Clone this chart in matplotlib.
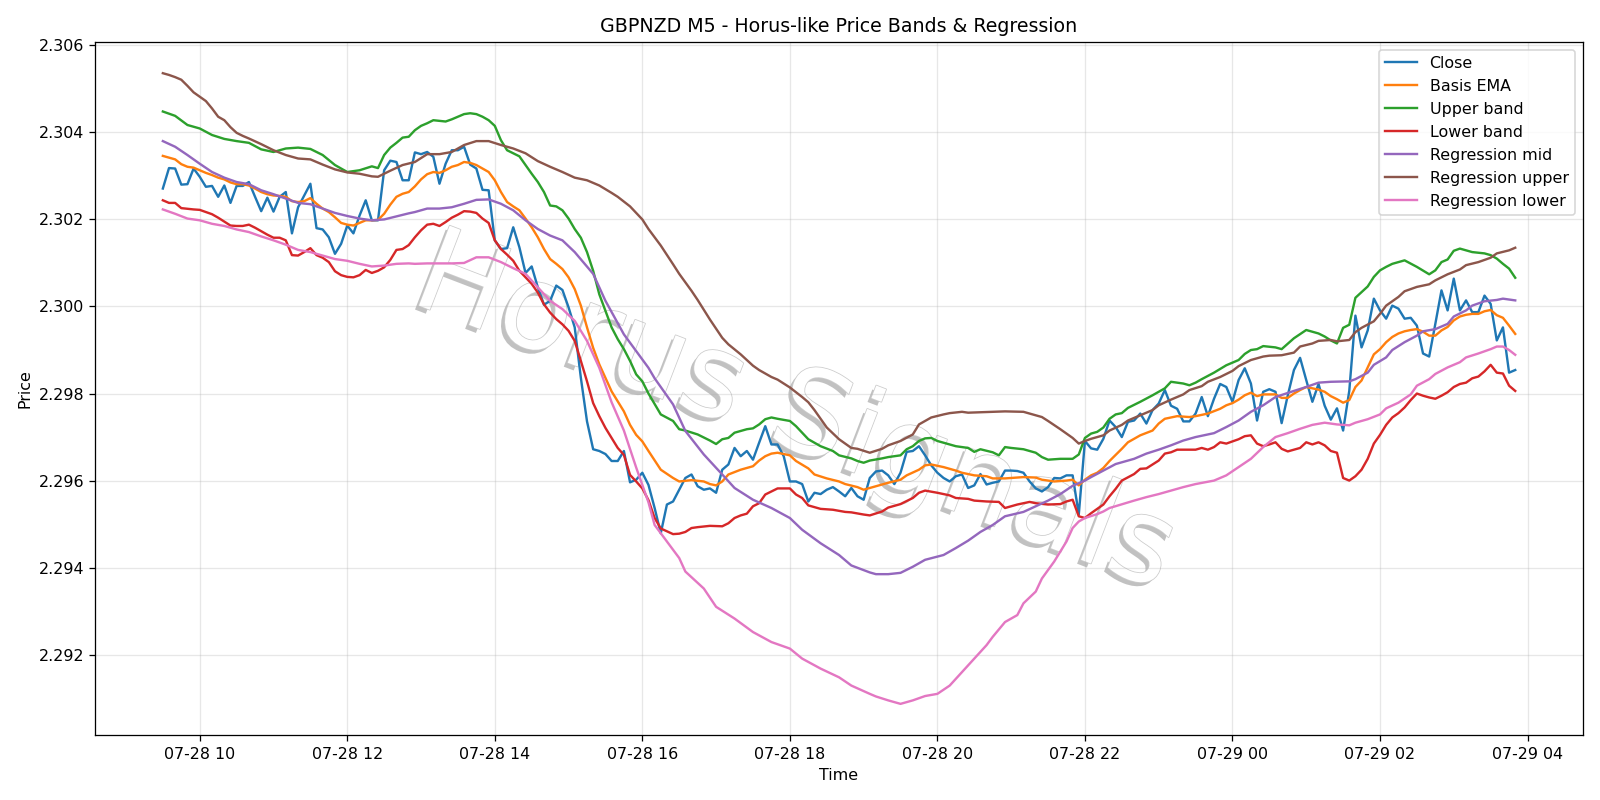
import matplotlib
matplotlib.use("Agg")
import matplotlib.pyplot as plt
import matplotlib.dates as mdates
import matplotlib.patheffects as pe
import pandas as pd
import numpy as np

start_time = "2024-07-28 09:30"
step_minutes = 5

close = [
    2.30271, 2.30318, 2.30317, 2.30280, 2.30281, 2.30317, 2.30298, 2.30275, 2.30277, 2.30252,
    2.30278, 2.30238, 2.30277, 2.30277, 2.30286, 2.30252, 2.30219, 2.30250, 2.30218, 2.30252,
    2.30263, 2.30168, 2.30228, 2.30255, 2.30282, 2.30180, 2.30177, 2.30159, 2.30121, 2.30144,
    2.30186, 2.30168, 2.30209, 2.30244, 2.30198, 2.30198, 2.30313, 2.30335, 2.30332, 2.30290,
    2.30290, 2.30354, 2.30350, 2.30355, 2.30344, 2.30282, 2.30328, 2.30359, 2.30359, 2.30367,
    2.30326, 2.30317, 2.30268, 2.30267, 2.30152, 2.30132, 2.30134, 2.30182, 2.30136, 2.30077,
    2.30092, 2.30044, 2.30004, 2.30013, 2.30048, 2.30038, 2.29998, 2.29952, 2.29836, 2.29736,
    2.29672, 2.29668, 2.29661, 2.29645, 2.29645, 2.29668, 2.29596, 2.29602, 2.29618, 2.29590,
    2.29537, 2.29479, 2.29545, 2.29552, 2.29579, 2.29606, 2.29614, 2.29587, 2.29579, 2.29582,
    2.29572, 2.29625, 2.29637, 2.29675, 2.29656, 2.29668, 2.29648, 2.29687, 2.29725, 2.29683,
    2.29683, 2.29656, 2.29598, 2.29598, 2.29592, 2.29552, 2.29572, 2.29569, 2.29579, 2.29585,
    2.29575, 2.29564, 2.29583, 2.29564, 2.29556, 2.29606, 2.29621, 2.29623, 2.29612, 2.29592,
    2.29618, 2.29666, 2.29668, 2.29679, 2.29658, 2.29635, 2.29618, 2.29606, 2.29598, 2.29610,
    2.29614, 2.29583, 2.29589, 2.29615, 2.29591, 2.29595, 2.29598, 2.29623, 2.29623, 2.29622,
    2.29618, 2.29598, 2.29582, 2.29575, 2.29585, 2.29606, 2.29605, 2.29612, 2.29612, 2.29522,
    2.29691, 2.29674, 2.29671, 2.29696, 2.29738, 2.29723, 2.29700, 2.29735, 2.29738, 2.29754,
    2.29731, 2.29762, 2.29777, 2.29808, 2.29772, 2.29765, 2.29736, 2.29736, 2.29754, 2.29792,
    2.29748, 2.29788, 2.29822, 2.29815, 2.29781, 2.29831, 2.29858, 2.29823, 2.29738, 2.29804,
    2.29810, 2.29804, 2.29732, 2.29796, 2.29854, 2.29882, 2.29831, 2.29781, 2.29822, 2.29772,
    2.29740, 2.29766, 2.29715, 2.29806, 2.29979, 2.29906, 2.29945, 2.30018, 2.29991, 2.29972,
    2.30002, 2.29995, 2.29972, 2.29974, 2.29956, 2.29892, 2.29885, 2.29960, 2.30037, 2.29991,
    2.30064, 2.29991, 2.30014, 2.29987, 2.29987, 2.30025, 2.30006, 2.29922, 2.29952, 2.29848,
    2.29854,
]

basis_idx = [0, 1, 2, 3, 4, 5, 6, 7, 8, 9, 10, 11, 12, 13, 14, 15, 16, 17, 18, 19, 20, 21, 22, 23, 24, 25,
             26, 27, 28, 29, 30, 31, 32, 33, 34, 35, 36, 37, 38, 39, 40, 41, 42, 43, 44, 45, 46, 47, 48,
             49, 50, 51, 52, 53, 54, 55, 56, 57, 58, 59, 60, 61, 62, 63, 64, 65, 66, 67, 68, 69, 70, 71,
             72, 73, 74, 75, 76, 77, 78, 79, 81, 83, 84, 86, 88, 89, 90, 91, 92, 94, 96, 97, 98, 99, 100,
             102, 103, 105, 106, 108, 110, 111, 113, 114, 116, 118, 120, 121, 123, 124, 125, 127, 129,
             130, 132, 134, 135, 137, 138, 140, 142, 143, 145, 147, 148, 149, 150, 151, 152, 153, 154,
             156, 157, 159, 161, 162, 163, 165, 167, 168, 170, 172, 173, 174, 175, 176, 177, 178, 179,
             180, 181, 182, 183, 184, 185, 186, 188, 189, 190, 191, 192, 193, 194, 195, 196, 197, 198,
             199, 200, 201, 202, 203, 204, 205, 206, 207, 208, 209, 210, 211, 212, 213, 214, 215, 216,
             217, 218, 219, 220]
basis_val = [2.30346, 2.30342, 2.30338, 2.30327, 2.30321, 2.30319, 2.30313, 2.30307, 2.30302, 2.30296,
             2.30292, 2.30285, 2.30281, 2.30281, 2.30278, 2.30271, 2.30263, 2.30258, 2.30255, 2.30254,
             2.30252, 2.30242, 2.30240, 2.30242, 2.30249, 2.30236, 2.30225, 2.30217, 2.30205, 2.30192,
             2.30188, 2.30186, 2.30192, 2.30198, 2.30198, 2.30199, 2.30213, 2.30234, 2.30252, 2.30259,
             2.30263, 2.30276, 2.30292, 2.30304, 2.30309, 2.30307, 2.30313, 2.30321, 2.30325, 2.30332,
             2.30330, 2.30325, 2.30317, 2.30309, 2.30290, 2.30263, 2.30240, 2.30230, 2.30221, 2.30202,
             2.30182, 2.30159, 2.30132, 2.30109, 2.30098, 2.30086, 2.30067, 2.30040, 2.30002, 2.29952,
             2.29905, 2.29867, 2.29836, 2.29805, 2.29782, 2.29759, 2.29728, 2.29705, 2.29690, 2.29668,
             2.29625, 2.29606, 2.29598, 2.29601, 2.29598, 2.29592, 2.29589, 2.29598, 2.29614, 2.29625,
             2.29633, 2.29646, 2.29656, 2.29662, 2.29664, 2.29658, 2.29645, 2.29628, 2.29614, 2.29605,
             2.29598, 2.29592, 2.29585, 2.29579, 2.29587, 2.29595, 2.29602, 2.29612, 2.29625, 2.29635,
             2.29637, 2.29631, 2.29623, 2.29618, 2.29612, 2.29610, 2.29605, 2.29605, 2.29606, 2.29608,
             2.29607, 2.29602, 2.29598, 2.29600, 2.29602, 2.29589, 2.29602, 2.29612, 2.29618, 2.29629,
             2.29645, 2.29673, 2.29688, 2.29704, 2.29715, 2.29731, 2.29742, 2.29748, 2.29746, 2.29748,
             2.29754, 2.29765, 2.29773, 2.29778, 2.29786, 2.29796, 2.29802, 2.29794, 2.29798, 2.29798,
             2.29798, 2.29790, 2.29790, 2.29800, 2.29808, 2.29815, 2.29809, 2.29804, 2.29794, 2.29787,
             2.29779, 2.29785, 2.29815, 2.29830, 2.29860, 2.29890, 2.29902, 2.29918, 2.29930, 2.29938,
             2.29943, 2.29946, 2.29948, 2.29942, 2.29933, 2.29933, 2.29945, 2.29953, 2.29968, 2.29977,
             2.29981, 2.29983, 2.29983, 2.29989, 2.29992, 2.29980, 2.29974, 2.29956, 2.29937]

upper_idx = [0, 2, 4, 6, 8, 10, 12, 14, 16, 18, 20, 22, 24, 26, 28, 30, 32, 34, 35, 36, 37, 38, 39, 40,
             41, 42, 43, 44, 46, 47, 48, 49, 50, 51, 52, 53, 54, 55, 56, 57, 58, 59, 60, 61, 62, 63, 64,
             65, 66, 67, 68, 69, 70, 71, 72, 73, 74, 75, 76, 77, 78, 79, 81, 83, 84, 85, 87, 89, 90, 91,
             92, 93, 95, 96, 97, 98, 99, 100, 102, 103, 104, 105, 107, 109, 110, 112, 113, 114, 115, 117,
             118, 120, 121, 122, 123, 124, 125, 126, 128, 129, 131, 132, 133, 135, 136, 137, 138, 140,
             142, 143, 144, 146, 148, 149, 150, 151, 152, 153, 154, 155, 156, 157, 159, 161, 163, 164,
             165, 166, 167, 168, 169, 171, 173, 175, 176, 177, 178, 179, 181, 182, 184, 186, 188, 189,
             190, 191, 192, 193, 194, 195, 196, 197, 198, 199, 200, 202, 204, 206, 207, 208, 209, 210,
             211, 213, 215, 216, 217, 218, 219, 220]
upper_val = [2.30448, 2.30438, 2.30417, 2.30409, 2.30394, 2.30385, 2.30380, 2.30376, 2.30361, 2.30355,
             2.30363, 2.30365, 2.30362, 2.30348, 2.30325, 2.30309, 2.30313, 2.30322, 2.30318, 2.30348,
             2.30365, 2.30376, 2.30388, 2.30390, 2.30405, 2.30415, 2.30421, 2.30428, 2.30425, 2.30430,
             2.30436, 2.30442, 2.30444, 2.30442, 2.30436, 2.30428, 2.30415, 2.30382, 2.30359, 2.30352,
             2.30345, 2.30325, 2.30305, 2.30286, 2.30263, 2.30232, 2.30230, 2.30221, 2.30202, 2.30178,
             2.30158, 2.30125, 2.30082, 2.30028, 2.29990, 2.29952, 2.29925, 2.29902, 2.29875, 2.29844,
             2.29828, 2.29800, 2.29752, 2.29737, 2.29718, 2.29715, 2.29706, 2.29692, 2.29684, 2.29695,
             2.29698, 2.29710, 2.29718, 2.29720, 2.29729, 2.29741, 2.29745, 2.29742, 2.29737, 2.29725,
             2.29710, 2.29695, 2.29679, 2.29668, 2.29658, 2.29651, 2.29645, 2.29641, 2.29646, 2.29651,
             2.29654, 2.29658, 2.29672, 2.29679, 2.29691, 2.29697, 2.29698, 2.29691, 2.29683, 2.29679,
             2.29675, 2.29666, 2.29672, 2.29665, 2.29658, 2.29677, 2.29675, 2.29672, 2.29664, 2.29654,
             2.29648, 2.29650, 2.29650, 2.29660, 2.29698, 2.29708, 2.29712, 2.29722, 2.29742, 2.29752,
             2.29755, 2.29767, 2.29781, 2.29796, 2.29812, 2.29827, 2.29825, 2.29823, 2.29819, 2.29825,
             2.29833, 2.29848, 2.29865, 2.29877, 2.29891, 2.29900, 2.29902, 2.29909, 2.29906, 2.29902,
             2.29927, 2.29946, 2.29938, 2.29931, 2.29922, 2.29915, 2.29951, 2.29958, 2.30020, 2.30033,
             2.30046, 2.30068, 2.30083, 2.30091, 2.30098, 2.30106, 2.30091, 2.30074, 2.30083, 2.30102,
             2.30108, 2.30128, 2.30133, 2.30125, 2.30122, 2.30118, 2.30110, 2.30098, 2.30087, 2.30066]

lower_idx = [0, 1, 2, 3, 5, 6, 7, 8, 9, 10, 11, 12, 13, 14, 15, 16, 17, 18, 19, 20, 21, 22, 23, 24, 25,
             26, 27, 28, 29, 30, 31, 32, 33, 34, 35, 36, 37, 38, 39, 40, 41, 42, 43, 44, 45, 46, 47, 48,
             49, 50, 51, 52, 53, 54, 55, 56, 57, 58, 59, 60, 61, 62, 63, 64, 65, 66, 67, 68, 69, 70, 71,
             72, 73, 74, 75, 76, 77, 78, 79, 80, 81, 83, 84, 85, 86, 87, 89, 91, 92, 93, 94, 95, 96, 97,
             98, 99, 100, 102, 103, 104, 105, 107, 109, 111, 112, 114, 115, 117, 118, 120, 122, 123, 124,
             126, 128, 129, 131, 132, 134, 136, 137, 139, 141, 142, 144, 146, 147, 148, 149, 150, 151,
             153, 154, 155, 156, 158, 159, 160, 162, 163, 164, 165, 167, 168, 169, 170, 171, 172, 173,
             174, 175, 176, 177, 178, 179, 180, 181, 182, 183, 185, 186, 187, 188, 189, 190, 191, 192,
             193, 194, 195, 196, 197, 198, 199, 200, 201, 202, 203, 204, 205, 206, 207, 208, 209, 210,
             211, 212, 213, 214, 215, 216, 217, 218, 219, 220]
lower_val = [2.30244, 2.30238, 2.30238, 2.30226, 2.30223, 2.30222, 2.30217, 2.30212, 2.30204, 2.30195,
             2.30186, 2.30185, 2.30185, 2.30188, 2.30181, 2.30173, 2.30165, 2.30158, 2.30158, 2.30152,
             2.30118, 2.30117, 2.30125, 2.30134, 2.30118, 2.30112, 2.30102, 2.30081, 2.30072, 2.30068,
             2.30067, 2.30072, 2.30084, 2.30077, 2.30082, 2.30090, 2.30107, 2.30130, 2.30132, 2.30141,
             2.30159, 2.30175, 2.30188, 2.30190, 2.30185, 2.30194, 2.30204, 2.30211, 2.30219, 2.30218,
             2.30215, 2.30202, 2.30192, 2.30152, 2.30132, 2.30119, 2.30105, 2.30082, 2.30067, 2.30052,
             2.30032, 2.30005, 2.29986, 2.29971, 2.29959, 2.29944, 2.29921, 2.29875, 2.29828, 2.29778,
             2.29748, 2.29721, 2.29698, 2.29675, 2.29659, 2.29613, 2.29598, 2.29582, 2.29555, 2.29514,
             2.29490, 2.29477, 2.29478, 2.29482, 2.29491, 2.29493, 2.29496, 2.29495, 2.29502, 2.29514,
             2.29520, 2.29524, 2.29541, 2.29548, 2.29568, 2.29575, 2.29582, 2.29582, 2.29568, 2.29560,
             2.29543, 2.29535, 2.29533, 2.29528, 2.29527, 2.29522, 2.29520, 2.29529, 2.29538, 2.29546,
             2.29560, 2.29572, 2.29577, 2.29572, 2.29566, 2.29560, 2.29558, 2.29554, 2.29552, 2.29551,
             2.29537, 2.29545, 2.29551, 2.29548, 2.29545, 2.29546, 2.29552, 2.29556, 2.29518, 2.29514,
             2.29525, 2.29545, 2.29564, 2.29581, 2.29600, 2.29615, 2.29627, 2.29628, 2.29646, 2.29662,
             2.29665, 2.29671, 2.29671, 2.29671, 2.29675, 2.29671, 2.29677, 2.29688, 2.29685, 2.29690,
             2.29695, 2.29702, 2.29704, 2.29685, 2.29679, 2.29683, 2.29688, 2.29673, 2.29667, 2.29675,
             2.29688, 2.29683, 2.29688, 2.29681, 2.29668, 2.29664, 2.29606, 2.29600, 2.29610, 2.29625,
             2.29650, 2.29685, 2.29705, 2.29728, 2.29745, 2.29755, 2.29768, 2.29785, 2.29800, 2.29795,
             2.29791, 2.29788, 2.29795, 2.29803, 2.29815, 2.29822, 2.29825, 2.29835, 2.29839, 2.29851,
             2.29866, 2.29848, 2.29846, 2.29818, 2.29806]

reg_mid_idx = [0, 2, 4, 6, 8, 10, 12, 14, 16, 18, 20, 22, 24, 26, 28, 30, 32, 34, 36, 38, 40, 41, 43,
               45, 47, 49, 51, 53, 55, 57, 59, 61, 63, 65, 67, 70, 72, 75, 79, 80, 83, 85, 88, 91, 93,
               96, 99, 102, 104, 107, 110, 112, 115, 116, 118, 120, 122, 124, 127, 129, 131, 133, 135,
               137, 140, 142, 144, 146, 148, 150, 151, 153, 155, 158, 160, 162, 164, 166, 168, 171, 173,
               175, 177, 179, 181, 184, 186, 188, 190, 193, 194, 196, 197, 199, 200, 202, 204, 205, 207,
               209, 210, 212, 213, 215, 217, 218, 220]
reg_mid_val = [2.30380, 2.30367, 2.30348, 2.30328, 2.30309, 2.30296, 2.30286, 2.30281, 2.30267, 2.30258,
               2.30248, 2.30238, 2.30235, 2.30225, 2.30215, 2.30208, 2.30202, 2.30198, 2.30200, 2.30207,
               2.30214, 2.30217, 2.30225, 2.30225, 2.30228, 2.30236, 2.30245, 2.30246, 2.30236, 2.30221,
               2.30198, 2.30178, 2.30163, 2.30152, 2.30125, 2.30075, 2.30013, 2.29936, 2.29859, 2.29835,
               2.29775, 2.29714, 2.29660, 2.29614, 2.29583, 2.29556, 2.29537, 2.29514, 2.29487, 2.29456,
               2.29429, 2.29405, 2.29389, 2.29385, 2.29385, 2.29388, 2.29402, 2.29418, 2.29429, 2.29445,
               2.29462, 2.29482, 2.29498, 2.29518, 2.29528, 2.29541, 2.29554, 2.29569, 2.29588, 2.29600,
               2.29608, 2.29623, 2.29638, 2.29650, 2.29662, 2.29671, 2.29681, 2.29692, 2.29700, 2.29709,
               2.29723, 2.29738, 2.29758, 2.29773, 2.29792, 2.29806, 2.29815, 2.29825, 2.29827, 2.29828,
               2.29833, 2.29848, 2.29866, 2.29883, 2.29900, 2.29918, 2.29933, 2.29943, 2.29948, 2.29960,
               2.29977, 2.29991, 2.30002, 2.30012, 2.30015, 2.30018, 2.30014]

reg_up_idx = [0, 1, 2, 3, 4, 5, 6, 7, 8, 9, 10, 11, 12, 13, 14, 16, 18, 20, 22, 24, 26, 28, 30, 32, 34,
              35, 36, 37, 39, 41, 43, 45, 47, 49, 51, 53, 55, 57, 59, 61, 63, 65, 67, 69, 71, 73, 74, 76,
              78, 79, 81, 83, 84, 86, 87, 89, 91, 92, 94, 96, 97, 99, 100, 102, 104, 105, 106, 108, 110,
              112, 113, 115, 117, 118, 120, 122, 123, 125, 127, 128, 130, 131, 133, 135, 137, 140, 141,
              143, 144, 146, 148, 149, 150, 151, 153, 154, 156, 157, 159, 161, 162, 164, 166, 167, 169,
              170, 172, 174, 175, 177, 179, 180, 182, 184, 185, 187, 188, 190, 191, 193, 194, 195, 197,
              198, 199, 201, 202, 204, 206, 207, 209, 211, 212, 214, 216, 217, 219, 220]
reg_up_val = [2.30536, 2.30532, 2.30527, 2.30521, 2.30507, 2.30492, 2.30482, 2.30472, 2.30455, 2.30436,
              2.30428, 2.30412, 2.30399, 2.30392, 2.30386, 2.30373, 2.30359, 2.30348, 2.30340, 2.30338,
              2.30326, 2.30315, 2.30308, 2.30305, 2.30299, 2.30298, 2.30305, 2.30312, 2.30325, 2.30332,
              2.30350, 2.30350, 2.30355, 2.30371, 2.30380, 2.30380, 2.30371, 2.30363, 2.30352, 2.30334,
              2.30321, 2.30309, 2.30296, 2.30290, 2.30278, 2.30261, 2.30252, 2.30230, 2.30200, 2.30178,
              2.30140, 2.30097, 2.30075, 2.30036, 2.30015, 2.29970, 2.29928, 2.29913, 2.29890, 2.29864,
              2.29854, 2.29838, 2.29832, 2.29814, 2.29792, 2.29780, 2.29762, 2.29722, 2.29695, 2.29675,
              2.29673, 2.29664, 2.29673, 2.29681, 2.29691, 2.29706, 2.29729, 2.29745, 2.29752, 2.29755,
              2.29758, 2.29756, 2.29757, 2.29758, 2.29759, 2.29758, 2.29754, 2.29746, 2.29737, 2.29718,
              2.29698, 2.29685, 2.29691, 2.29696, 2.29704, 2.29715, 2.29728, 2.29738, 2.29750, 2.29762,
              2.29773, 2.29786, 2.29798, 2.29808, 2.29817, 2.29827, 2.29838, 2.29852, 2.29863, 2.29877,
              2.29885, 2.29887, 2.29888, 2.29894, 2.29908, 2.29915, 2.29921, 2.29923, 2.29920, 2.29923,
              2.29941, 2.29951, 2.29966, 2.29983, 2.30002, 2.30022, 2.30035, 2.30045, 2.30051, 2.30060,
              2.30074, 2.30085, 2.30095, 2.30102, 2.30112, 2.30122, 2.30129, 2.30135]

reg_low_idx = [0, 2, 4, 6, 8, 10, 12, 14, 16, 18, 20, 22, 24, 26, 28, 30, 32, 34, 36, 38, 40, 41, 43,
               45, 47, 49, 51, 53, 55, 57, 59, 61, 63, 65, 67, 69, 71, 73, 75, 77, 79, 80, 82, 84, 85,
               88, 90, 93, 96, 99, 102, 104, 107, 110, 112, 115, 116, 118, 120, 122, 124, 126, 128, 130,
               132, 134, 135, 137, 139, 140, 142, 143, 145, 147, 148, 149, 150, 152, 153, 154, 158, 160,
               162, 164, 166, 168, 171, 173, 175, 177, 179, 181, 183, 185, 187, 189, 191, 193, 194, 196,
               198, 199, 201, 203, 204, 206, 207, 209, 211, 212, 214, 216, 217, 218, 219, 220]
reg_low_val = [2.30223, 2.30213, 2.30202, 2.30198, 2.30190, 2.30185, 2.30177, 2.30171, 2.30161, 2.30152,
               2.30142, 2.30130, 2.30125, 2.30117, 2.30109, 2.30105, 2.30098, 2.30092, 2.30094, 2.30098,
               2.30099, 2.30098, 2.30099, 2.30099, 2.30099, 2.30100, 2.30113, 2.30113, 2.30102, 2.30088,
               2.30075, 2.30044, 2.30013, 2.29994, 2.29967, 2.29921, 2.29859, 2.29780, 2.29715, 2.29630,
               2.29550, 2.29498, 2.29460, 2.29422, 2.29391, 2.29352, 2.29310, 2.29283, 2.29252, 2.29229,
               2.29214, 2.29191, 2.29168, 2.29148, 2.29129, 2.29110, 2.29104, 2.29095, 2.29087, 2.29095,
               2.29105, 2.29110, 2.29129, 2.29160, 2.29191, 2.29222, 2.29241, 2.29275, 2.29291, 2.29318,
               2.29345, 2.29375, 2.29414, 2.29460, 2.29491, 2.29506, 2.29514, 2.29523, 2.29529, 2.29537,
               2.29554, 2.29562, 2.29569, 2.29577, 2.29585, 2.29592, 2.29600, 2.29612, 2.29631, 2.29650,
               2.29677, 2.29700, 2.29709, 2.29719, 2.29728, 2.29733, 2.29729, 2.29727, 2.29733, 2.29741,
               2.29752, 2.29766, 2.29779, 2.29798, 2.29818, 2.29833, 2.29845, 2.29860, 2.29872, 2.29883,
               2.29892, 2.29902, 2.29908, 2.29908, 2.29900, 2.29889]

series_labels = ["Close", "Basis EMA", "Upper band", "Lower band",
                 "Regression mid", "Regression upper", "Regression lower"]
title_text = "GBPNZD M5 - Horus-like Price Bands & Regression"
watermark_text = "Horus Signals"

t0 = pd.Timestamp(start_time)
step = pd.Timedelta(minutes=step_minutes)


def times(idx):
    return [t0 + step * int(k) for k in idx]


close_t = times(range(len(close)))

DPI = 1600 / 14
fig, ax = plt.subplots(figsize=(14, 7), dpi=DPI)

ax.text(0.47, 0.462, watermark_text, transform=ax.transAxes, fontsize=74,
        rotation=-21, ha="center", va="center", color="white", zorder=1,
        path_effects=[pe.SimplePatchShadow(offset=(-2.5, -2.5), shadow_rgbFace="0.4", alpha=0.4),
                      pe.Stroke(linewidth=1.0, foreground="0.8"), pe.Normal()])

ax.plot(close_t, close, color="C0", lw=1.5, label=series_labels[0], zorder=3)
ax.plot(times(basis_idx), basis_val, color="C1", lw=1.5, label=series_labels[1], zorder=3)
ax.plot(times(upper_idx), upper_val, color="C2", lw=1.5, label=series_labels[2], zorder=3)
ax.plot(times(lower_idx), lower_val, color="C3", lw=1.5, label=series_labels[3], zorder=3)
ax.plot(times(reg_mid_idx), reg_mid_val, color="C4", lw=1.5, label=series_labels[4], zorder=3)
ax.plot(times(reg_up_idx), reg_up_val, color="C5", lw=1.5, label=series_labels[5], zorder=3)
ax.plot(times(reg_low_idx), reg_low_val, color="C6", lw=1.5, label=series_labels[6], zorder=3)

ax.xaxis.set_major_locator(mdates.HourLocator(byhour=range(0, 24, 2)))
ax.xaxis.set_major_formatter(mdates.DateFormatter("%m-%d %H"))
ax.ticklabel_format(axis="y", useOffset=False)
ax.grid(True, alpha=0.3)
ax.set_title(title_text)
ax.set_xlabel("Time")
ax.set_ylabel("Price")
ax.legend(loc="upper right")

fig.tight_layout()
fig.savefig("out.png", dpi=DPI)
